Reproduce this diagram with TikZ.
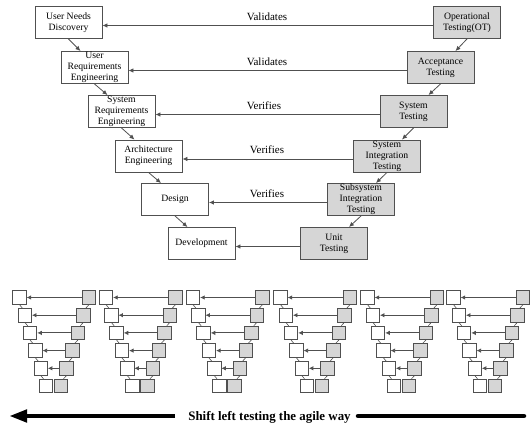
\documentclass[tikz,border=0pt]{standalone}
\usepackage{fontspec}
\setmainfont{Liberation Serif}
\usetikzlibrary{arrows.meta,calc}
\definecolor{edge}{HTML}{505050}
\definecolor{testfill}{HTML}{D6D6D6}
\begin{document}
\begin{tikzpicture}[x=1pt,y=-1pt,
  devbox/.style={draw=edge,line width=0.9pt,fill=white,minimum width=67pt,minimum height=32pt,
    inner sep=0pt,align=center,font=\fontsize{9.7}{11}\selectfont},
  testbox/.style={devbox,fill=testfill},
  link/.style={draw=edge,line width=0.8pt,-{Latex[length=5pt,width=4.5pt]}},
  relabel/.style={font=\fontsize{11}{13}\selectfont,anchor=base,inner sep=0pt},
  minidev/.style={draw=edge,line width=0.8pt,fill=white,minimum size=13.5pt,inner sep=0pt},
  minitest/.style={minidev,fill=testfill},
  minilink/.style={draw=edge,line width=0.8pt,-{Latex[length=4.5pt,width=4.5pt]}},
  ministep/.style={draw=edge,line width=0.6pt},
  bigbar/.style={line width=4.5pt,black}
]
\useasboundingbox (0,0) rectangle (531,425);

% development side of the V
\node[devbox] (un) at (68.5,22.5)  {User Needs\\Discovery};
\node[devbox] (ur) at (94.5,67.5)  {User\\Requirements\\Engineering};
\node[devbox] (sr) at (121.5,111.5){System\\Requirements\\Engineering};
\node[devbox] (ae) at (148.5,156)  {Architecture\\Engineering};
\node[devbox] (de) at (175,199.5)  {Design};
\node[devbox] (dv) at (201.5,243.5){Development};

% testing side of the V
\node[testbox] (ot)   at (467,22.5)   {Operational\\Testing(OT)};
\node[testbox] (at)   at (440.5,67.5) {Acceptance\\Testing};
\node[testbox] (st)   at (413.5,111.5){System\\Testing};
\node[testbox] (sit)  at (387,156)    {System\\Integration\\Testing};
\node[testbox] (ssit) at (361,199.5)  {Subsystem\\Integration\\Testing};
\node[testbox] (ut)   at (334,243.5)  {Unit\\Testing};

% steps down each side
\foreach \a/\b in {un/ur,ur/sr,sr/ae,ae/de,de/dv}
  \draw[link] (\a.south) -- ($(\b.north)+(-14,0)$);
\foreach \a/\b in {ot/at,at/st,st/sit,sit/ssit,ssit/ut}
  \draw[link] (\a.south) -- ($(\b.north)+(15,0)$);

% validation and verification links
\foreach \a/\b in {ot/un,at/ur,st/sr,sit/ae,ssit/de,ut/dv}
  \draw[link] ([yshift=-3pt]\a.west) -- ([yshift=-3pt]\b.east);

\node[relabel] (l1) at (267,20.5)  {Validates};
\node[relabel] (l2) at (267,65.5)  {Validates};
\node[relabel] (l3) at (264,109.5) {Verifies};
\node[relabel] (l4) at (267,154)   {Verifies};
\node[relabel] (l5) at (267,197.5) {Verifies};

% row of small V models
\foreach \vi/\cx in {1/53.5,2/140,3/227,4/314.5,5/401.5,6/487.5} {
  \foreach \r in {0,...,5} {
    \node[minidev]  (m\vi l\r) at ({\cx-34+5.3*\r},{297.5+17.7*\r}) {};
    \node[minitest] (m\vi r\r) at ({\cx+35.5-5.6*\r},{297.5+17.7*\r}) {};
  }
  \foreach \r in {0,...,4} {
    \pgfmathtruncatemacro\nx{\r+1}
    \draw[minilink] (m\vi r\r) -- (m\vi l\r);
    \draw[ministep] (m\vi l\r.south) -- ($(m\vi l\nx.north)+(-2.5,0)$);
    \draw[ministep] (m\vi r\r.south) -- ($(m\vi r\nx.north)+(2.5,0)$);
  }
}

% shift-left banner
\node[font=\fontsize{12.9}{15}\selectfont\bfseries,inner sep=0pt,anchor=base] (slt) at (269.5,420.3)
  {Shift left testing the agile way};
\coordinate (tip) at (9,416);
\coordinate (barstart) at (175,416);
\coordinate (barend) at (524,416);
\coordinate (barresume) at (358,416);
\draw[bigbar,-{Triangle[length=18pt,width=12pt]}] (barstart) -- (tip);
\draw[bigbar,line cap=round] (barresume) -- (barend);
\end{tikzpicture}
\end{document}
